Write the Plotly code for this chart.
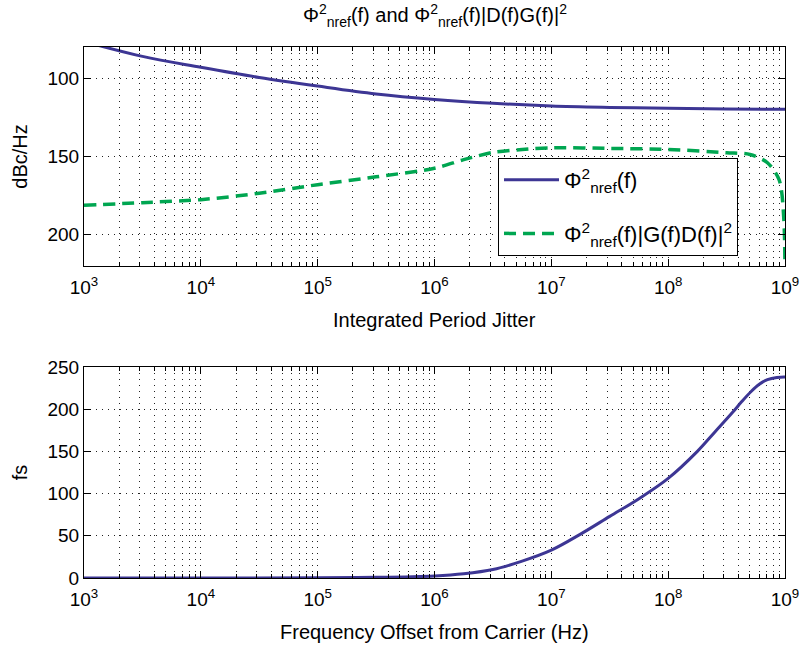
import plotly.graph_objects as go

# Reference phase noise spectrum (dBc/Hz, plotted on a reversed axis)
freq_psd = [1e3, 10**3.5, 1e4, 10**4.5, 1e5, 10**5.5, 1e6, 10**6.5, 1e7,
            10**7.5, 1e8, 10**8.5, 1e9]
phi_nref = [76.5, 86, 93, 99.5, 105, 110, 113.5, 116, 117.7,
            118.6, 119.2, 119.6, 119.8]

# Reference noise shaped by the loop filter |G(f)D(f)|^2
freq_shaped = [1e3, 10**3.5, 1e4, 10**4.5, 1e5, 10**5.5, 1e6, 10**6.25,
               10**6.5, 10**6.75, 1e7, 10**7.5, 1e8, 10**8.5, 10**8.7,
               10**8.85, 10**8.95, 10**8.99, 1e9]
phi_shaped = [181.2, 179.5, 177.6, 173.5, 168, 163, 157.5, 152,
              147.4, 145.5, 144.5, 144.8, 145.5, 147.6, 148.7,
              154, 165, 190, 300]

# Integrated period jitter (fs)
freq_jit = [1e3, 1e4, 1e5, 10**5.5, 1e6, 10**6.25, 10**6.5, 10**6.75, 1e7,
            10**7.25, 10**7.5, 10**7.75, 1e8, 10**8.25, 10**8.4, 10**8.55,
            10**8.63, 10**8.71, 10**8.78, 10**8.85, 10**8.93, 1e9]
jitter_fs = [0, 0.05, 0.3, 0.8, 2.5, 5, 10, 20, 33,
             52, 73, 94, 118, 150, 173, 196,
             209, 221, 229.5, 235, 237.6, 238]

decades = [1e3, 1e4, 1e5, 1e6, 1e7, 1e8, 1e9]
decade_labels = ["10<sup>3</sup>", "10<sup>4</sup>", "10<sup>5</sup>", "10<sup>6</sup>",
                 "10<sup>7</sup>", "10<sup>8</sup>", "10<sup>9</sup>"]
minor_vals = [k * 10**e for e in range(3, 9) for k in range(2, 10)]

BLUE = "#3d3694"
GREEN = "#00a651"
FONT = "Liberation Sans, Arial, Helvetica, sans-serif"

fig = go.Figure()
fig.add_trace(go.Scatter(
    x=freq_psd, y=phi_nref, mode="lines", line=dict(color=BLUE, width=3, shape="spline"),
    name="Φ<sup>2</sup><sub>nref</sub>(f)", legendgroup="a", xaxis="x", yaxis="y"))
fig.add_trace(go.Scatter(
    x=freq_shaped, y=phi_shaped, mode="lines",
    line=dict(color=GREEN, width=3.5, dash="12px,7px", shape="spline", smoothing=0.8),
    name="Φ<sup>2</sup><sub>nref</sub>(f)|G(f)D(f)|<sup>2</sup>", legendgroup="b",
    xaxis="x", yaxis="y"))
fig.add_trace(go.Scatter(
    x=freq_jit, y=jitter_fs, mode="lines", line=dict(color=BLUE, width=3, shape="spline", smoothing=1),
    showlegend=False, xaxis="x2", yaxis="y2"))

grid = dict(showgrid=True, gridcolor="#222", gridwidth=1, griddash="1px,5px")
axis_common = dict(showline=True, linecolor="black", linewidth=1, mirror="allticks",
                   ticks="inside", ticklen=7, tickcolor="black", zeroline=False,
                   automargin=False,
                   tickfont=dict(size=19, color="black", family=FONT), **grid)
xaxis_common = dict(type="log", range=[3, 9], tickmode="array", tickvals=decades,
                    ticktext=decade_labels, ticklabelstandoff=4,
                    minor=dict(tickmode="array", tickvals=minor_vals, ticks="inside",
                               ticklen=4, tickcolor="black", showgrid=True,
                               gridcolor="#222", gridwidth=1, griddash="1px,5px"),
                    **axis_common)
ytitle_font = dict(size=20, family=FONT, color="black")

fig.update_layout(
    width=805, height=649,
    margin=dict(l=84, r=20, t=47, b=71),
    paper_bgcolor="white", plot_bgcolor="white",
    font=dict(family=FONT, color="black", size=19),
    xaxis=dict(domain=[0, 1], anchor="y", **xaxis_common),
    yaxis=dict(domain=[0.5876, 1], anchor="x", range=[220, 80],
               tickvals=[100, 150, 200],
               title=dict(text="dBc/Hz", font=ytitle_font, standoff=14), **axis_common),
    xaxis2=dict(domain=[0, 1], anchor="y2", **xaxis_common),
    yaxis2=dict(domain=[0, 0.3974], anchor="x2", range=[0, 250],
                tickvals=[0, 50, 100, 150, 200, 250],
                title=dict(text="fs", font=ytitle_font, standoff=14), **axis_common),
    legend=dict(x=0.5906, y=0.791, xref="paper", yref="paper",
                xanchor="left", yanchor="top", itemwidth=55,
                tracegroupgap=22,
                bgcolor="white", bordercolor="black", borderwidth=1,
                font=dict(size=22, family=FONT, color="black")),
    showlegend=True,
)

annots = [
    dict(text="Φ<sup>2</sup><sub>nref</sub>(f) and Φ<sup>2</sup><sub>nref</sub>(f)|D(f)G(f)|<sup>2</sup>",
         x=0.5, y=1.06, font=dict(size=20)),
    dict(text="Integrated Period Jitter", x=0.5, y=0.486, font=dict(size=20)),
    dict(text="Frequency Offset from Carrier (Hz)", x=0.5, y=-0.1017, font=dict(size=20)),
]
for a in annots:
    fig.add_annotation(xref="paper", yref="paper", xanchor="center", yanchor="middle",
                       showarrow=False, **a)

fig.write_html("out.html")
